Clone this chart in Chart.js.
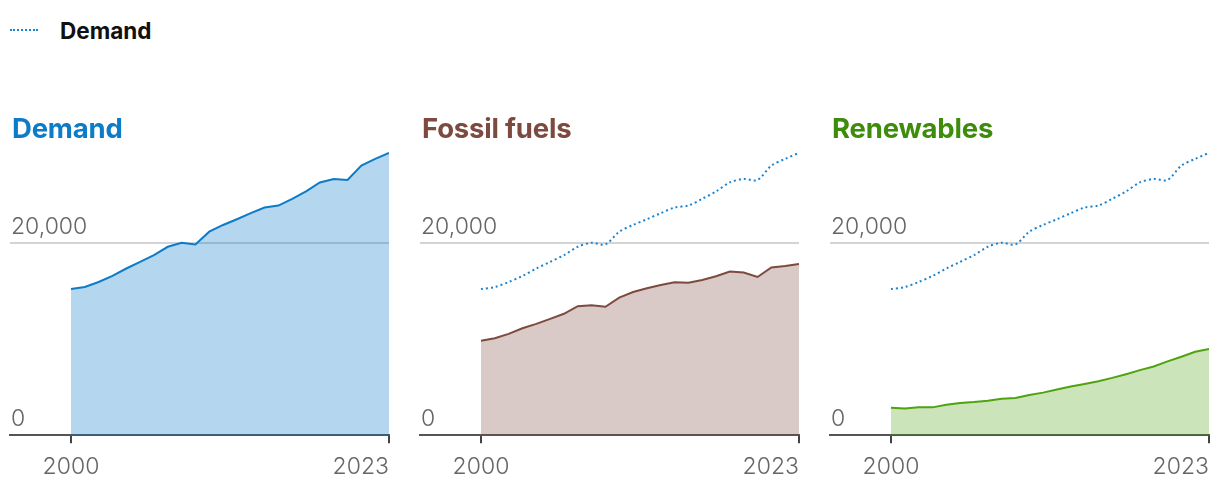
<!DOCTYPE html>
<html>
<head>
<meta charset="utf-8">
<script src="https://cdn.jsdelivr.net/npm/chart.js@4/dist/chart.umd.min.js"></script>
<style>
  html, body { margin: 0; padding: 0; background: #fff; }
  #wrap { position: relative; width: 1220px; height: 490px; overflow: hidden; font-family: "Inter", "Liberation Sans", sans-serif; }
  .panel { position: absolute; top: 0; width: 400px; height: 490px; }
  .title { position: absolute; top: 113px; font-size: 27.5px; line-height: 30px; font-weight: 700; z-index: 2; letter-spacing: -0.2px; }
  #legend { position: absolute; left: 10px; top: 16px; height: 28px; display: flex; align-items: center; }
  #legend .swatch { width: 28px; height: 0; border-top: 2px dotted #1a84d1; margin-right: 22px; }
  #legend .lab { font-size: 22.5px; font-weight: 700; color: #111; }
</style>
</head>
<body>
<div id="wrap">
  <div id="legend"><span class="swatch"></span><span class="lab">Demand</span></div>
  <div class="title" style="left:12px;color:#0c7bc8">Demand</div>
  <div class="title" style="left:422px;color:#7c4a3f">Fossil fuels</div>
  <div class="title" style="left:832px;color:#3e8c0c">Renewables</div>
  <div class="panel" style="left:0px"><canvas id="c0" width="400" height="490"></canvas></div>
  <div class="panel" style="left:410px"><canvas id="c1" width="400" height="490"></canvas></div>
  <div class="panel" style="left:820px"><canvas id="c2" width="400" height="490"></canvas></div>
</div>
<script>
const years = [2000, 2001, 2002, 2003, 2004, 2005, 2006, 2007, 2008, 2009, 2010, 2011,
  2012, 2013, 2014, 2015, 2016, 2017, 2018, 2019, 2020, 2021, 2022, 2023];

const demand = [15215, 15424, 15948, 16576, 17351, 18042, 18743, 19613, 20031, 19864, 21183, 21885,
  22482, 23110, 23696, 23906, 24607, 25372, 26314, 26670, 26565, 28063, 28764, 29393];

const fossil = [9843, 10084, 10544, 11131, 11592, 12115, 12639, 13435, 13539, 13372, 14314, 14901,
  15288, 15634, 15916, 15880, 16157, 16545, 17037, 16932, 16471, 17455, 17622, 17832];

const renewables = [2862, 2792, 2897, 2897, 3176, 3351, 3455, 3595, 3805, 3874, 4188, 4433,
  4747, 5061, 5340, 5620, 5969, 6353, 6771, 7155, 7679, 8168, 8691, 8970];

const yTicks = [0, 20000];
const xTickYears = [2000, 2023];

const X_MIN = 1995.59;
const Y_MAX = 30000;
const tickFont = { family: "Inter, 'Liberation Sans', sans-serif", size: 23, weight: 300 };

function pts(vals) {
  return years.map((yr, i) => ({ x: yr, y: vals[i] }));
}

function makePanel(id, series, lineColor, fillColor, withDemand) {
  const datasets = [];
  if (withDemand) {
    datasets.push({
      data: pts(demand),
      borderColor: "#1a84d1",
      borderWidth: 2,
      borderDash: [2, 3],
      fill: false,
      pointRadius: 0,
      tension: 0.3,
    });
  }
  datasets.push({
    data: pts(series),
    borderColor: lineColor,
    backgroundColor: fillColor,
    borderWidth: 2,
    fill: "origin",
    pointRadius: 0,
    tension: 0,
  });

  return new Chart(document.getElementById(id), {
    type: "line",
    data: { datasets },
    options: {
      responsive: false,
      animation: false,
      events: [],
      // y axis takes 2px (mirrored labels, padding 1 each side)
      layout: { padding: { left: 8, right: 11, top: 147, bottom: 0 } },
      plugins: { legend: { display: false }, tooltip: { enabled: false } },
      scales: {
        x: {
          type: "linear",
          min: X_MIN,
          max: 2023,
          afterBuildTicks: (scale) => {
            scale.ticks = [{ value: X_MIN }].concat(xTickYears.map((v) => ({ value: v })));
          },
          grid: {
            drawOnChartArea: false,
            drawTicks: true,
            tickLength: 8,
            lineWidth: 2,
            color: (ctx) => (ctx.tick && xTickYears.includes(ctx.tick.value) ? "#444" : "rgba(0,0,0,0)"),
          },
          border: { display: true, color: "#555", width: 2 },
          ticks: {
            align: "inner",
            autoSkip: false,
            maxRotation: 0,
            padding: 9.6,
            color: "#666",
            font: tickFont,
            callback: (v) => (xTickYears.includes(v) ? String(v) : ""),
          },
        },
        y: {
          min: 0,
          max: Y_MAX,
          afterBuildTicks: (scale) => {
            scale.ticks = yTicks.map((v) => ({ value: v }));
          },
          grid: {
            drawTicks: false,
            lineWidth: 2,
            color: (ctx) => (ctx.tick && ctx.tick.value === 20000 ? "#d4d4d4" : "rgba(0,0,0,0)"),
          },
          border: { display: false },
          ticks: {
            mirror: true,
            padding: 1,
            labelOffset: -16,
            color: "#666",
            font: tickFont,
            callback: (v) => v.toLocaleString("en-US"),
          },
        },
      },
    },
  });
}

makePanel("c0", demand, "#0c7bc8", "rgba(12,123,200,0.31)", false);
makePanel("c1", fossil, "#7c4a3f", "rgba(124,74,63,0.29)", true);
makePanel("c2", renewables, "#4ea30f", "rgba(78,163,15,0.29)", true);
</script>
</body>
</html>
